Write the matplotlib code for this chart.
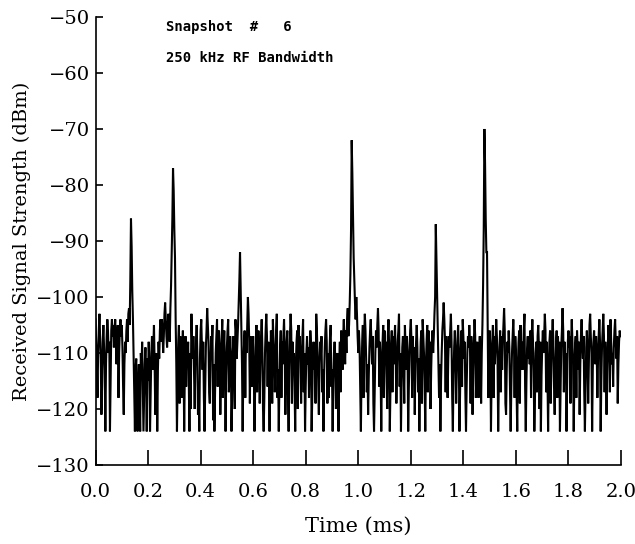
import numpy as np
import matplotlib
matplotlib.use('Agg')
import matplotlib.pyplot as plt

# received signal strength (dBm), one sample every 0.0025 ms, rows of 0.05 ms
rss = [
    -104, -108, -112, -118, -110, -106, -103, -107, -111, -121, -116, -108, -105, -109, -113, -124, -112, -107, -104, -106,
    -110, -108, -124, -115, -106, -104, -107, -105, -109, -106, -104, -108, -112, -107, -105, -118, -110, -106, -104, -107,
    -105, -109, -116, -121, -112, -108, -110, -106, -104, -108, -103, -102, -105, -97, -86, -91, -99, -104, -110, -117,
    -124, -113, -111, -119, -124, -115, -112, -117, -124, -110, -113, -108, -116, -124, -118, -112, -109, -114, -124, -111,
    -115, -108, -112, -124, -117, -110, -107, -113, -109, -105, -112, -121, -116, -110, -124, -113, -108, -111, -106, -104,
    -108, -104, -106, -110, -107, -103, -101, -104, -107, -109, -105, -103, -106, -108, -102, -98, -92, -86, -77, -81,
    -88, -93, -104, -112, -124, -115, -108, -105, -119, -107, -112, -118, -109, -106, -111, -124, -113, -107, -116, -109,
    -112, -108, -115, -124, -110, -120, -103, -108, -111, -107, -113, -120, -112, -108, -105, -110, -121, -117, -124, -111,
    -106, -104, -109, -113, -108, -118, -124, -116, -109, -106, -102, -105, -108, -117, -119, -112, -107, -109, -105, -122,
    -112, -124, -117, -110, -107, -104, -116, -111, -106, -109, -121, -113, -108, -104, -118, -110, -106, -112, -124, -114,
    -109, -106, -104, -117, -113, -107, -110, -124, -118, -110, -107, -112, -120, -104, -106, -111, -108, -105, -101, -97,
    -92, -99, -106, -112, -124, -114, -109, -106, -118, -107, -110, -105, -100, -103, -108, -119, -107, -110, -116, -111,
    -107, -113, -124, -116, -109, -105, -117, -111, -106, -110, -119, -112, -107, -104, -109, -120, -124, -118, -110, -106,
    -103, -107, -116, -108, -114, -124, -112, -106, -109, -119, -104, -108, -111, -117, -110, -106, -103, -118, -113, -124,
    -115, -109, -106, -118, -108, -112, -107, -104, -109, -121, -114, -108, -106, -117, -124, -113, -107, -103, -106, -119,
    -108, -113, -110, -116, -124, -112, -108, -106, -120, -105, -110, -107, -112, -119, -111, -107, -104, -117, -110, -124,
    -116, -110, -107, -112, -109, -118, -110, -106, -108, -124, -117, -111, -108, -113, -110, -119, -103, -106, -110, -115,
    -121, -112, -108, -111, -107, -117, -113, -124, -114, -109, -106, -104, -108, -119, -110, -118, -111, -107, -105, -116,
    -113, -124, -115, -110, -108, -111, -120, -113, -110, -116, -124, -112, -108, -117, -106, -109, -113, -107, -104, -108,
    -112, -106, -110, -104, -102, -107, -105, -101, -96, -88, -72, -78, -86, -93, -97, -101, -104, -100, -103, -107,
    -110, -106, -109, -116, -124, -113, -108, -105, -118, -107, -103, -106, -111, -117, -112, -121, -114, -109, -106, -104,
    -108, -112, -107, -119, -124, -117, -110, -106, -109, -105, -102, -106, -116, -108, -113, -124, -112, -108, -105, -118,
    -106, -111, -108, -114, -120, -107, -104, -109, -124, -116, -109, -106, -117, -107, -112, -108, -105, -111, -119, -113,
    -108, -106, -103, -116, -110, -124, -115, -109, -107, -112, -119, -105, -109, -113, -107, -110, -124, -116, -110, -106,
    -104, -108, -118, -107, -113, -109, -121, -112, -108, -105, -109, -117, -111, -124, -114, -108, -106, -119, -104, -107,
    -110, -115, -124, -112, -108, -105, -117, -106, -111, -108, -120, -113, -108, -106, -110, -107, -103, -100, -87, -93,
    -100, -106, -110, -118, -112, -124, -115, -110, -106, -104, -101, -104, -108, -117, -107, -112, -118, -111, -107, -109,
    -106, -103, -108, -118, -124, -114, -109, -106, -110, -119, -113, -108, -105, -109, -124, -117, -110, -106, -116, -104,
    -107, -111, -108, -117, -124, -116, -110, -107, -109, -105, -108, -119, -107, -110, -121, -113, -108, -104, -107, -118,
    -112, -108, -114, -118, -110, -107, -112, -119, -110, -105, -98, -88, -70, -76, -86, -92, -92, -104, -118, -112,
    -106, -109, -124, -114, -108, -105, -118, -107, -112, -108, -104, -107, -111, -124, -115, -109, -106, -117, -107, -113,
    -108, -105, -102, -106, -119, -121, -113, -108, -110, -106, -109, -117, -124, -116, -110, -107, -104, -108, -118, -107,
    -110, -117, -124, -112, -108, -106, -119, -105, -111, -108, -113, -110, -106, -103, -116, -124, -115, -109, -107, -111,
    -108, -112, -106, -118, -107, -104, -108, -113, -124, -118, -110, -108, -117, -107, -105, -109, -120, -108, -124, -114,
    -109, -106, -110, -107, -103, -106, -117, -108, -114, -124, -113, -108, -106, -119, -112, -107, -104, -108, -116, -121,
    -113, -109, -106, -118, -107, -112, -108, -124, -116, -109, -106, -102, -106, -117, -108, -113, -110, -124, -115, -108,
    -106, -109, -107, -119, -108, -104, -108, -112, -124, -114, -109, -107, -118, -106, -109, -113, -108, -121, -112, -107,
    -104, -108, -111, -107, -117, -124, -116, -109, -106, -110, -119, -112, -105, -103, -107, -110, -124, -113, -108, -106,
    -109, -112, -107, -110, -118, -111, -107, -104, -108, -124, -115, -109, -106, -103, -107, -117, -108, -113, -121, -112,
    -108, -105, -109, -117, -104, -108, -112, -110, -116, -109, -106, -104, -108, -111, -107, -119, -112, -108, -106, -107,
]
dt = 0.0025  # ms
t = np.arange(len(rss)) * dt

xticks = [0.0, 0.2, 0.4, 0.6, 0.8, 1.0, 1.2, 1.4, 1.6, 1.8, 2.0]
yticks = [-130, -120, -110, -100, -90, -80, -70, -60, -50]

fig = plt.figure(figsize=(6.35, 5.44), dpi=100)
ax = fig.add_axes([0.1504, 0.1452, 0.8276, 0.8236])

ax.plot(t, rss, color='black', lw=1.5, solid_joinstyle='miter')

ax.set_xlim(0, 2.0)
ax.set_ylim(-130, -50)
ax.set_xticks(xticks)
ax.set_xticklabels([f'{v:.1f}' for v in xticks])
ax.set_yticks(yticks)

for s in ['top', 'right']:
    ax.spines[s].set_visible(False)
for s in ['left', 'bottom']:
    ax.spines[s].set_linewidth(1.2)

ax.tick_params(axis='x', direction='in', length=11, width=1.2, pad=13)
ax.tick_params(axis='y', direction='in', length=5, width=1.2, pad=4)
for lab in ax.get_xticklabels() + ax.get_yticklabels():
    lab.set_family('DejaVu Serif')
    lab.set_fontsize(14)

ax.set_xlabel('Time (ms)', family='DejaVu Serif', fontsize=15, labelpad=11)
ax.set_ylabel('Received Signal Strength (dBm)', family='DejaVu Serif', fontsize=14, labelpad=4)

ax.text(0.27, -51.8, 'Snapshot  #   6', family='DejaVu Sans Mono', weight='bold',
        fontsize=10, va='center', ha='left')
ax.text(0.27, -57.3, '250 kHz RF Bandwidth', family='DejaVu Sans Mono', weight='bold',
        fontsize=10, va='center', ha='left')

fig.savefig('out.png', dpi=100, facecolor='white')
